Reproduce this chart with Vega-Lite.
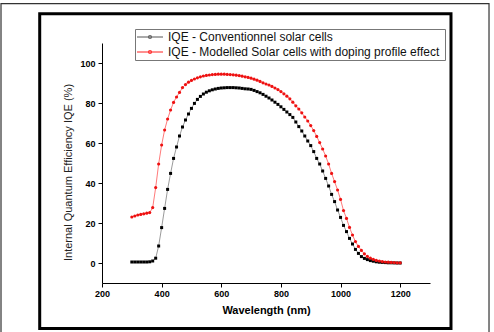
{
  "$schema": "https://vega.github.io/schema/vega-lite/v6.json",
  "width": 328,
  "height": 240,
  "autosize": {"type": "none"},
  "padding": {"left": 102, "top": 43, "right": 64, "bottom": 49},
  "background": "white",
  "config": {"view": {"stroke": null}, "font": "Liberation Sans"},
  "datasets": {
    "frames": [
      {"frame": "outer", "x0": -138.7, "x1": 1497.9, "y0": -45, "y1": 129.7},
      {"frame": "inner", "x0": -8.9, "x1": 1370.4, "y0": -32.7, "y1": 124.6}
    ],
    "iqe": [
      {"series": "IQE - Conventionnel solar cells", "wl": 300, "v": 0.5},
      {"series": "IQE - Conventionnel solar cells", "wl": 310, "v": 0.5},
      {"series": "IQE - Conventionnel solar cells", "wl": 320, "v": 0.5},
      {"series": "IQE - Conventionnel solar cells", "wl": 330, "v": 0.5},
      {"series": "IQE - Conventionnel solar cells", "wl": 340, "v": 0.5},
      {"series": "IQE - Conventionnel solar cells", "wl": 350, "v": 0.5},
      {"series": "IQE - Conventionnel solar cells", "wl": 360, "v": 0.6},
      {"series": "IQE - Conventionnel solar cells", "wl": 370, "v": 1.0},
      {"series": "IQE - Conventionnel solar cells", "wl": 380, "v": 2.4},
      {"series": "IQE - Conventionnel solar cells", "wl": 390, "v": 8.5},
      {"series": "IQE - Conventionnel solar cells", "wl": 400, "v": 17.7},
      {"series": "IQE - Conventionnel solar cells", "wl": 410, "v": 27.3},
      {"series": "IQE - Conventionnel solar cells", "wl": 420, "v": 36.8},
      {"series": "IQE - Conventionnel solar cells", "wl": 430, "v": 44.8},
      {"series": "IQE - Conventionnel solar cells", "wl": 440, "v": 52.3},
      {"series": "IQE - Conventionnel solar cells", "wl": 450, "v": 58.0},
      {"series": "IQE - Conventionnel solar cells", "wl": 460, "v": 63.5},
      {"series": "IQE - Conventionnel solar cells", "wl": 470, "v": 68.0},
      {"series": "IQE - Conventionnel solar cells", "wl": 480, "v": 71.5},
      {"series": "IQE - Conventionnel solar cells", "wl": 490, "v": 74.5},
      {"series": "IQE - Conventionnel solar cells", "wl": 500, "v": 77.3},
      {"series": "IQE - Conventionnel solar cells", "wl": 510, "v": 79.8},
      {"series": "IQE - Conventionnel solar cells", "wl": 520, "v": 81.8},
      {"series": "IQE - Conventionnel solar cells", "wl": 530, "v": 83.3},
      {"series": "IQE - Conventionnel solar cells", "wl": 540, "v": 84.5},
      {"series": "IQE - Conventionnel solar cells", "wl": 550, "v": 85.4},
      {"series": "IQE - Conventionnel solar cells", "wl": 560, "v": 86.1},
      {"series": "IQE - Conventionnel solar cells", "wl": 570, "v": 86.6},
      {"series": "IQE - Conventionnel solar cells", "wl": 580, "v": 87.0},
      {"series": "IQE - Conventionnel solar cells", "wl": 590, "v": 87.3},
      {"series": "IQE - Conventionnel solar cells", "wl": 600, "v": 87.5},
      {"series": "IQE - Conventionnel solar cells", "wl": 610, "v": 87.6},
      {"series": "IQE - Conventionnel solar cells", "wl": 620, "v": 87.7},
      {"series": "IQE - Conventionnel solar cells", "wl": 630, "v": 87.7},
      {"series": "IQE - Conventionnel solar cells", "wl": 640, "v": 87.7},
      {"series": "IQE - Conventionnel solar cells", "wl": 650, "v": 87.6},
      {"series": "IQE - Conventionnel solar cells", "wl": 660, "v": 87.5},
      {"series": "IQE - Conventionnel solar cells", "wl": 670, "v": 87.3},
      {"series": "IQE - Conventionnel solar cells", "wl": 680, "v": 87.1},
      {"series": "IQE - Conventionnel solar cells", "wl": 690, "v": 87.0},
      {"series": "IQE - Conventionnel solar cells", "wl": 700, "v": 86.8},
      {"series": "IQE - Conventionnel solar cells", "wl": 710, "v": 86.3},
      {"series": "IQE - Conventionnel solar cells", "wl": 720, "v": 85.7},
      {"series": "IQE - Conventionnel solar cells", "wl": 730, "v": 85.1},
      {"series": "IQE - Conventionnel solar cells", "wl": 740, "v": 84.3},
      {"series": "IQE - Conventionnel solar cells", "wl": 750, "v": 83.4},
      {"series": "IQE - Conventionnel solar cells", "wl": 760, "v": 82.5},
      {"series": "IQE - Conventionnel solar cells", "wl": 770, "v": 81.5},
      {"series": "IQE - Conventionnel solar cells", "wl": 780, "v": 80.4},
      {"series": "IQE - Conventionnel solar cells", "wl": 790, "v": 79.3},
      {"series": "IQE - Conventionnel solar cells", "wl": 800, "v": 78.1},
      {"series": "IQE - Conventionnel solar cells", "wl": 810, "v": 76.8},
      {"series": "IQE - Conventionnel solar cells", "wl": 820, "v": 75.5},
      {"series": "IQE - Conventionnel solar cells", "wl": 830, "v": 74.2},
      {"series": "IQE - Conventionnel solar cells", "wl": 840, "v": 72.8},
      {"series": "IQE - Conventionnel solar cells", "wl": 850, "v": 70.5},
      {"series": "IQE - Conventionnel solar cells", "wl": 860, "v": 68.2},
      {"series": "IQE - Conventionnel solar cells", "wl": 870, "v": 66.0},
      {"series": "IQE - Conventionnel solar cells", "wl": 880, "v": 63.5},
      {"series": "IQE - Conventionnel solar cells", "wl": 890, "v": 61.0},
      {"series": "IQE - Conventionnel solar cells", "wl": 900, "v": 58.7},
      {"series": "IQE - Conventionnel solar cells", "wl": 910, "v": 55.7},
      {"series": "IQE - Conventionnel solar cells", "wl": 920, "v": 52.3},
      {"series": "IQE - Conventionnel solar cells", "wl": 930, "v": 49.5},
      {"series": "IQE - Conventionnel solar cells", "wl": 940, "v": 46.0},
      {"series": "IQE - Conventionnel solar cells", "wl": 950, "v": 42.3},
      {"series": "IQE - Conventionnel solar cells", "wl": 960, "v": 38.5},
      {"series": "IQE - Conventionnel solar cells", "wl": 970, "v": 34.3},
      {"series": "IQE - Conventionnel solar cells", "wl": 980, "v": 30.7},
      {"series": "IQE - Conventionnel solar cells", "wl": 990, "v": 26.5},
      {"series": "IQE - Conventionnel solar cells", "wl": 1000, "v": 22.8},
      {"series": "IQE - Conventionnel solar cells", "wl": 1010, "v": 18.8},
      {"series": "IQE - Conventionnel solar cells", "wl": 1020, "v": 15.7},
      {"series": "IQE - Conventionnel solar cells", "wl": 1030, "v": 12.3},
      {"series": "IQE - Conventionnel solar cells", "wl": 1040, "v": 9.5},
      {"series": "IQE - Conventionnel solar cells", "wl": 1050, "v": 6.8},
      {"series": "IQE - Conventionnel solar cells", "wl": 1060, "v": 4.8},
      {"series": "IQE - Conventionnel solar cells", "wl": 1070, "v": 3.2},
      {"series": "IQE - Conventionnel solar cells", "wl": 1080, "v": 2.3},
      {"series": "IQE - Conventionnel solar cells", "wl": 1090, "v": 1.7},
      {"series": "IQE - Conventionnel solar cells", "wl": 1100, "v": 1.2},
      {"series": "IQE - Conventionnel solar cells", "wl": 1110, "v": 0.9},
      {"series": "IQE - Conventionnel solar cells", "wl": 1120, "v": 0.6},
      {"series": "IQE - Conventionnel solar cells", "wl": 1130, "v": 0.4},
      {"series": "IQE - Conventionnel solar cells", "wl": 1140, "v": 0.3},
      {"series": "IQE - Conventionnel solar cells", "wl": 1150, "v": 0.2},
      {"series": "IQE - Conventionnel solar cells", "wl": 1160, "v": 0.1},
      {"series": "IQE - Conventionnel solar cells", "wl": 1170, "v": 0.1},
      {"series": "IQE - Conventionnel solar cells", "wl": 1180, "v": 0.05},
      {"series": "IQE - Conventionnel solar cells", "wl": 1190, "v": 0.0},
      {"series": "IQE - Conventionnel solar cells", "wl": 1200, "v": 0.0},
      {"series": "IQE - Modelled Solar cells with doping  profile effect", "wl": 300, "v": 23.0},
      {"series": "IQE - Modelled Solar cells with doping  profile effect", "wl": 310, "v": 23.5},
      {"series": "IQE - Modelled Solar cells with doping  profile effect", "wl": 320, "v": 24.0},
      {"series": "IQE - Modelled Solar cells with doping  profile effect", "wl": 330, "v": 24.3},
      {"series": "IQE - Modelled Solar cells with doping  profile effect", "wl": 340, "v": 24.6},
      {"series": "IQE - Modelled Solar cells with doping  profile effect", "wl": 350, "v": 24.9},
      {"series": "IQE - Modelled Solar cells with doping  profile effect", "wl": 360, "v": 25.2},
      {"series": "IQE - Modelled Solar cells with doping  profile effect", "wl": 370, "v": 27.7},
      {"series": "IQE - Modelled Solar cells with doping  profile effect", "wl": 380, "v": 37.7},
      {"series": "IQE - Modelled Solar cells with doping  profile effect", "wl": 390, "v": 49.5},
      {"series": "IQE - Modelled Solar cells with doping  profile effect", "wl": 400, "v": 59.0},
      {"series": "IQE - Modelled Solar cells with doping  profile effect", "wl": 410, "v": 66.5},
      {"series": "IQE - Modelled Solar cells with doping  profile effect", "wl": 420, "v": 72.0},
      {"series": "IQE - Modelled Solar cells with doping  profile effect", "wl": 430, "v": 76.5},
      {"series": "IQE - Modelled Solar cells with doping  profile effect", "wl": 440, "v": 80.3},
      {"series": "IQE - Modelled Solar cells with doping  profile effect", "wl": 450, "v": 83.0},
      {"series": "IQE - Modelled Solar cells with doping  profile effect", "wl": 460, "v": 85.3},
      {"series": "IQE - Modelled Solar cells with doping  profile effect", "wl": 470, "v": 87.7},
      {"series": "IQE - Modelled Solar cells with doping  profile effect", "wl": 480, "v": 89.2},
      {"series": "IQE - Modelled Solar cells with doping  profile effect", "wl": 490, "v": 90.4},
      {"series": "IQE - Modelled Solar cells with doping  profile effect", "wl": 500, "v": 91.3},
      {"series": "IQE - Modelled Solar cells with doping  profile effect", "wl": 510, "v": 92.0},
      {"series": "IQE - Modelled Solar cells with doping  profile effect", "wl": 520, "v": 92.6},
      {"series": "IQE - Modelled Solar cells with doping  profile effect", "wl": 530, "v": 93.1},
      {"series": "IQE - Modelled Solar cells with doping  profile effect", "wl": 540, "v": 93.5},
      {"series": "IQE - Modelled Solar cells with doping  profile effect", "wl": 550, "v": 93.8},
      {"series": "IQE - Modelled Solar cells with doping  profile effect", "wl": 560, "v": 94.0},
      {"series": "IQE - Modelled Solar cells with doping  profile effect", "wl": 570, "v": 94.2},
      {"series": "IQE - Modelled Solar cells with doping  profile effect", "wl": 580, "v": 94.3},
      {"series": "IQE - Modelled Solar cells with doping  profile effect", "wl": 590, "v": 94.4},
      {"series": "IQE - Modelled Solar cells with doping  profile effect", "wl": 600, "v": 94.4},
      {"series": "IQE - Modelled Solar cells with doping  profile effect", "wl": 610, "v": 94.4},
      {"series": "IQE - Modelled Solar cells with doping  profile effect", "wl": 620, "v": 94.3},
      {"series": "IQE - Modelled Solar cells with doping  profile effect", "wl": 630, "v": 94.2},
      {"series": "IQE - Modelled Solar cells with doping  profile effect", "wl": 640, "v": 94.1},
      {"series": "IQE - Modelled Solar cells with doping  profile effect", "wl": 650, "v": 93.9},
      {"series": "IQE - Modelled Solar cells with doping  profile effect", "wl": 660, "v": 93.7},
      {"series": "IQE - Modelled Solar cells with doping  profile effect", "wl": 670, "v": 93.4},
      {"series": "IQE - Modelled Solar cells with doping  profile effect", "wl": 680, "v": 93.1},
      {"series": "IQE - Modelled Solar cells with doping  profile effect", "wl": 690, "v": 92.8},
      {"series": "IQE - Modelled Solar cells with doping  profile effect", "wl": 700, "v": 92.4},
      {"series": "IQE - Modelled Solar cells with doping  profile effect", "wl": 710, "v": 91.9},
      {"series": "IQE - Modelled Solar cells with doping  profile effect", "wl": 720, "v": 91.4},
      {"series": "IQE - Modelled Solar cells with doping  profile effect", "wl": 730, "v": 90.8},
      {"series": "IQE - Modelled Solar cells with doping  profile effect", "wl": 740, "v": 90.1},
      {"series": "IQE - Modelled Solar cells with doping  profile effect", "wl": 750, "v": 89.5},
      {"series": "IQE - Modelled Solar cells with doping  profile effect", "wl": 760, "v": 89.0},
      {"series": "IQE - Modelled Solar cells with doping  profile effect", "wl": 770, "v": 88.3},
      {"series": "IQE - Modelled Solar cells with doping  profile effect", "wl": 780, "v": 87.5},
      {"series": "IQE - Modelled Solar cells with doping  profile effect", "wl": 790, "v": 86.7},
      {"series": "IQE - Modelled Solar cells with doping  profile effect", "wl": 800, "v": 85.7},
      {"series": "IQE - Modelled Solar cells with doping  profile effect", "wl": 810, "v": 84.6},
      {"series": "IQE - Modelled Solar cells with doping  profile effect", "wl": 820, "v": 83.4},
      {"series": "IQE - Modelled Solar cells with doping  profile effect", "wl": 830, "v": 82.1},
      {"series": "IQE - Modelled Solar cells with doping  profile effect", "wl": 840, "v": 80.4},
      {"series": "IQE - Modelled Solar cells with doping  profile effect", "wl": 850, "v": 78.6},
      {"series": "IQE - Modelled Solar cells with doping  profile effect", "wl": 860, "v": 77.0},
      {"series": "IQE - Modelled Solar cells with doping  profile effect", "wl": 870, "v": 75.1},
      {"series": "IQE - Modelled Solar cells with doping  profile effect", "wl": 880, "v": 73.0},
      {"series": "IQE - Modelled Solar cells with doping  profile effect", "wl": 890, "v": 71.0},
      {"series": "IQE - Modelled Solar cells with doping  profile effect", "wl": 900, "v": 68.7},
      {"series": "IQE - Modelled Solar cells with doping  profile effect", "wl": 910, "v": 66.2},
      {"series": "IQE - Modelled Solar cells with doping  profile effect", "wl": 920, "v": 63.3},
      {"series": "IQE - Modelled Solar cells with doping  profile effect", "wl": 930, "v": 60.2},
      {"series": "IQE - Modelled Solar cells with doping  profile effect", "wl": 940, "v": 57.0},
      {"series": "IQE - Modelled Solar cells with doping  profile effect", "wl": 950, "v": 53.5},
      {"series": "IQE - Modelled Solar cells with doping  profile effect", "wl": 960, "v": 49.5},
      {"series": "IQE - Modelled Solar cells with doping  profile effect", "wl": 970, "v": 44.8},
      {"series": "IQE - Modelled Solar cells with doping  profile effect", "wl": 980, "v": 40.7},
      {"series": "IQE - Modelled Solar cells with doping  profile effect", "wl": 990, "v": 36.5},
      {"series": "IQE - Modelled Solar cells with doping  profile effect", "wl": 1000, "v": 31.8},
      {"series": "IQE - Modelled Solar cells with doping  profile effect", "wl": 1010, "v": 26.2},
      {"series": "IQE - Modelled Solar cells with doping  profile effect", "wl": 1020, "v": 22.3},
      {"series": "IQE - Modelled Solar cells with doping  profile effect", "wl": 1030, "v": 17.8},
      {"series": "IQE - Modelled Solar cells with doping  profile effect", "wl": 1040, "v": 14.0},
      {"series": "IQE - Modelled Solar cells with doping  profile effect", "wl": 1050, "v": 10.7},
      {"series": "IQE - Modelled Solar cells with doping  profile effect", "wl": 1060, "v": 8.3},
      {"series": "IQE - Modelled Solar cells with doping  profile effect", "wl": 1070, "v": 6.3},
      {"series": "IQE - Modelled Solar cells with doping  profile effect", "wl": 1080, "v": 4.6},
      {"series": "IQE - Modelled Solar cells with doping  profile effect", "wl": 1090, "v": 3.3},
      {"series": "IQE - Modelled Solar cells with doping  profile effect", "wl": 1100, "v": 2.4},
      {"series": "IQE - Modelled Solar cells with doping  profile effect", "wl": 1110, "v": 1.8},
      {"series": "IQE - Modelled Solar cells with doping  profile effect", "wl": 1120, "v": 1.3},
      {"series": "IQE - Modelled Solar cells with doping  profile effect", "wl": 1130, "v": 1.0},
      {"series": "IQE - Modelled Solar cells with doping  profile effect", "wl": 1140, "v": 0.7},
      {"series": "IQE - Modelled Solar cells with doping  profile effect", "wl": 1150, "v": 0.5},
      {"series": "IQE - Modelled Solar cells with doping  profile effect", "wl": 1160, "v": 0.4},
      {"series": "IQE - Modelled Solar cells with doping  profile effect", "wl": 1170, "v": 0.3},
      {"series": "IQE - Modelled Solar cells with doping  profile effect", "wl": 1180, "v": 0.2},
      {"series": "IQE - Modelled Solar cells with doping  profile effect", "wl": 1190, "v": 0.1},
      {"series": "IQE - Modelled Solar cells with doping  profile effect", "wl": 1200, "v": 0.1}
    ]
  },
  "layer": [
    {
      "data": {"name": "frames"},
      "mark": {"type": "rect", "filled": false, "clip": false},
      "encoding": {
        "x": {"field": "x0", "type": "quantitative", "title": "Wavelength (nm)",
          "scale": {"domain": [200, 1300], "nice": false, "zero": false},
          "axis": {"values": [200, 300, 400, 500, 600, 700, 800, 900, 1000, 1100, 1200, 1300],
            "labelExpr": "datum.value % 200 == 0 && datum.value < 1300 ? datum.label : ''",
            "format": "d", "grid": false, "domainColor": "#000", "tickColor": "#000", "tickSize": 4,
            "labelFontSize": 9, "labelFontWeight": "bold", "labelColor": "#000", "labelPadding": 2, "labelFlush": false, "labelOverlap": false,
            "titleFontSize": 11, "titleFontWeight": "bold", "titleColor": "#000", "titlePadding": 6}},
        "x2": {"field": "x1"},
        "y": {"field": "y0", "type": "quantitative", "title": "Internal Quantum Efficiency IQE (%)",
          "scale": {"domain": [-10, 110], "nice": false, "zero": false},
          "axis": {"values": [0, 20, 40, 60, 80, 100],
            "grid": false, "domainColor": "#000", "tickColor": "#000", "tickSize": 4,
            "labelFontSize": 9, "labelFontWeight": "bold", "labelColor": "#000", "labelPadding": 3,
            "titleFontSize": 11, "titleFontWeight": "normal", "titleColor": "#222", "titlePadding": 6, "titleY": 129}},
        "y2": {"field": "y1"},
        "stroke": {"field": "frame", "type": "nominal", "scale": {"domain": ["outer", "inner"], "range": ["#333333", "#000000"]}, "legend": null},
        "strokeWidth": {"field": "frame", "type": "nominal", "scale": {"domain": ["outer", "inner"], "range": [1.2, 3]}, "legend": null}
      }
    },
    {
      "data": {"name": "iqe"},
      "mark": {"type": "line", "strokeWidth": 0.6},
      "encoding": {
        "x": {"field": "wl", "type": "quantitative", "title": "Wavelength (nm)"},
        "y": {"field": "v", "type": "quantitative", "title": "Internal Quantum Efficiency IQE (%)"},
        "color": {"field": "series", "type": "nominal",
          "scale": {"domain": ["IQE - Conventionnel solar cells", "IQE - Modelled Solar cells with doping  profile effect"], "range": ["#555555", "#ff2020"]},
          "legend": {"title": null, "orient": "none", "legendX": 33, "legendY": -14,
            "symbolType": "M-2.6,0H2.6M-0.25,-0.25H0.25V0.25H-0.25Z", "symbolSize": 100, "symbolStrokeWidth": 1, "symbolOffset": 7,
            "labelFontSize": 12, "labelColor": "#111", "labelLimit": 400, "rowPadding": 3, "padding": 2,
            "strokeColor": "#777", "fillColor": "white", "labelOffset": 12}}
      }
    },
    {
      "data": {"name": "iqe"},
      "transform": [{"filter": "datum.series == 'IQE - Conventionnel solar cells'"}],
      "mark": {"type": "square", "opacity": 1, "size": 9, "color": "#000000"},
      "encoding": {
        "x": {"field": "wl", "type": "quantitative", "title": "Wavelength (nm)"},
        "y": {"field": "v", "type": "quantitative", "title": "Internal Quantum Efficiency IQE (%)"}
      }
    },
    {
      "data": {"name": "iqe"},
      "transform": [{"filter": "datum.series != 'IQE - Conventionnel solar cells'"}],
      "mark": {"type": "circle", "opacity": 1, "size": 10, "color": "#ee1111"},
      "encoding": {
        "x": {"field": "wl", "type": "quantitative", "title": "Wavelength (nm)"},
        "y": {"field": "v", "type": "quantitative", "title": "Internal Quantum Efficiency IQE (%)"}
      }
    }
  ]
}
